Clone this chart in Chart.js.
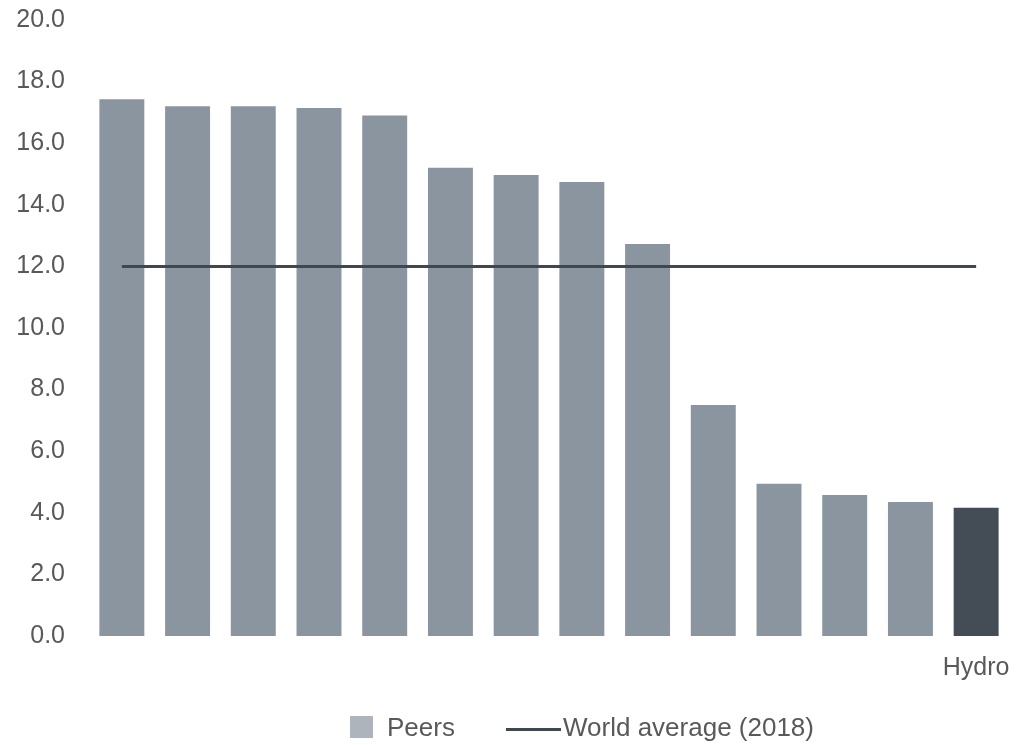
<!DOCTYPE html>
<html>
<head>
<meta charset="utf-8">
<script src="https://cdn.jsdelivr.net/npm/chart.js@4/dist/chart.umd.min.js"></script>
<style>
  html,body{margin:0;padding:0;background:#fff;}
  #wrap{position:relative;width:1020px;height:745px;overflow:hidden;}
  #legend{position:absolute;left:0;top:712px;width:1020px;height:30px;font-family:"Liberation Sans",Arial,sans-serif;font-size:26px;color:#595959;}
  .item{position:absolute;top:0;height:30px;line-height:30px;white-space:nowrap;}
  .box{position:absolute;top:4px;width:23px;height:22px;background:#adb4bb;}
  .ln{position:absolute;top:16px;height:3px;background:#3f4750;}
</style>
</head>
<body>
<div id="wrap">
  <canvas id="c" width="1020" height="745"></canvas>
  <div id="legend">
    <div class="item" style="left:350px"><span class="box" style="left:0"></span><span style="margin-left:37px">Peers</span></div>
    <div class="item" style="left:506px"><span class="ln" style="left:0;width:55px"></span><span style="margin-left:57px">World average (2018)</span></div>
  </div>
</div>
<script>
const categories = ['', '', '', '', '', '', '', '', '', '', '', '', '', 'Hydro'];
const peerValues = [17.43, 17.2, 17.2, 17.14, 16.9, 15.2, 14.97, 14.74, 12.73, 7.5, 4.94, 4.58, 4.35, 4.16];
const worldAverage = [12.0, 12.0, 12.0, 12.0, 12.0, 12.0, 12.0, 12.0, 12.0, 12.0, 12.0, 12.0, 12.0, 12.0];
const yTicks = [0, 2, 4, 6, 8, 10, 12, 14, 16, 18, 20];

const barColors = categories.map(c => c === 'Hydro' ? '#444c56' : '#8a959f');
const font = { family: '"Liberation Sans", Arial, sans-serif', size: 25 };

new Chart(document.getElementById('c').getContext('2d'), {
  data: {
    labels: categories,
    datasets: [
      { type: 'line', label: 'World average (2018)', data: worldAverage,
        borderColor: '#3f4750', borderWidth: 3, pointRadius: 0, fill: false, order: 0 },
      { type: 'bar', label: 'Peers', data: peerValues, backgroundColor: barColors,
        barPercentage: 0.684, categoryPercentage: 1, order: 1 }
    ]
  },
  options: {
    responsive: false,
    animation: false,
    layout: { padding: { left: 0, right: 11, top: 20, bottom: 59 } },
    plugins: { legend: { display: false }, tooltip: { enabled: false } },
    scales: {
      x: {
        grid: { display: false, drawTicks: false }, border: { display: false },
        ticks: { color: '#595959', font, maxRotation: 0, autoSkip: false, padding: 17 },
        afterFit: s => { s.height = 50; s.paddingLeft = 0; s.paddingRight = 0; }
      },
      y: {
        min: 0, max: 20,
        afterBuildTicks: s => { s.ticks = yTicks.map(v => ({ value: v })); },
        grid: { display: false, drawTicks: false }, border: { display: false },
        ticks: { color: '#595959', font, padding: 24, callback: v => Number(v).toFixed(1) },
        afterFit: s => { s.width = 89; s.paddingTop = 0; s.paddingBottom = 0; }
      }
    }
  }
});
</script>
</body>
</html>
